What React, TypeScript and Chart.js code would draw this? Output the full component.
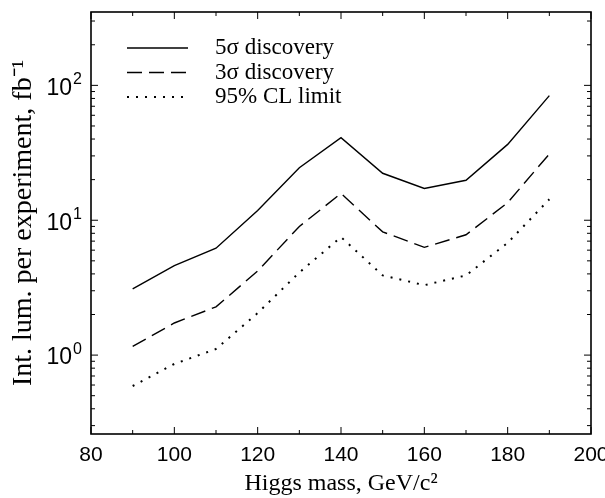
import { useEffect, useRef } from 'react';
import { Chart, registerables } from 'chart.js';

Chart.register(...registerables);

const masses = [90, 100, 110, 120, 130, 140, 150, 160, 170, 180, 190];
const discovery5 = [3.1, 4.6, 6.2, 11.8, 24.5, 41, 22.3, 17.2, 19.8, 36.5, 84];
const discovery3 = [1.16, 1.73, 2.28, 4.2, 9.0, 15.8, 8.2, 6.3, 7.8, 13.5, 31];
const limit95 = [0.59, 0.86, 1.11, 2.05, 4.1, 7.5, 3.9, 3.3, 3.9, 6.8, 14.3];
const seriesLabels = ['5σ discovery', '3σ discovery', '95% CL limit'];
const xMajorTicks = [80, 100, 120, 140, 160, 180, 200];
const xMinorTicks = [90, 110, 130, 150, 170, 190];
const yMajorTicks = [1, 10, 100];
const yLabelBase = '10';
const yLabelExponents = ['0', '1', '2'];
const yMinorTicks = [0.3, 0.4, 0.5, 0.6, 0.7, 0.8, 0.9, 2, 3, 4, 5, 6, 7, 8, 9, 20, 30, 40, 50, 60, 70, 80, 90, 200, 300];
const xTitle = 'Higgs mass, GeV/c²';
const yTitle = 'Int. lum. per experiment, fb⁻¹';

const dashStyles: number[][] = [[], [15, 7], [2, 7]];
const lineWidths = [1.4, 1.4, 2];

const framePlugin = {
  id: 'framePlugin',
  afterDatasetsDraw(chart: any) {
    const { ctx, chartArea } = chart;
    const { left, right, top, bottom } = chartArea;
    const xs = chart.scales.x;
    const ys = chart.scales.y;
    ctx.save();
    ctx.strokeStyle = '#000';
    ctx.lineWidth = 1;
    ctx.setLineDash([]);
    const seg = (x1: number, y1: number, x2: number, y2: number) => {
      ctx.beginPath();
      ctx.moveTo(x1, y1);
      ctx.lineTo(x2, y2);
      ctx.stroke();
    };
    xMajorTicks.forEach((v) => {
      const p = xs.getPixelForValue(v);
      seg(p, bottom, p, bottom - 7);
      seg(p, top, p, top + 7);
    });
    xMinorTicks.forEach((v) => {
      const p = xs.getPixelForValue(v);
      seg(p, bottom, p, bottom - 4);
      seg(p, top, p, top + 4);
    });
    yMajorTicks.forEach((v) => {
      const p = ys.getPixelForValue(v);
      seg(left, p, left + 7, p);
      seg(right, p, right - 7, p);
    });
    yMinorTicks.forEach((v) => {
      const p = ys.getPixelForValue(v);
      seg(left, p, left + 4, p);
      seg(right, p, right - 4, p);
    });
    ctx.lineWidth = 1.6;
    ctx.strokeRect(left, top, right - left, bottom - top);

    // y tick labels with superscript exponents
    ctx.fillStyle = '#000';
    yMajorTicks.forEach((v, i) => {
      const p = ys.getPixelForValue(v);
      ctx.font = '16px "Liberation Sans"';
      const expW = ctx.measureText(yLabelExponents[i]).width;
      const expX = left - 9 - expW;
      ctx.textAlign = 'left';
      ctx.textBaseline = 'alphabetic';
      ctx.fillText(yLabelExponents[i], expX, p - 1);
      ctx.font = '23px "Liberation Sans"';
      ctx.textAlign = 'right';
      ctx.textBaseline = 'middle';
      ctx.fillText(yLabelBase, expX - 1, p + 3);
    });

    // legend
    ctx.font = '23px "Liberation Serif"';
    ctx.textAlign = 'left';
    ctx.textBaseline = 'middle';
    chart.data.datasets.forEach((ds: any, i: number) => {
      const y = top + 36 + i * 24.5;
      ctx.lineWidth = lineWidths[i];
      ctx.setLineDash(dashStyles[i]);
      seg(left + 36, y, left + 97, y);
      ctx.setLineDash([]);
      ctx.fillText(ds.label, left + 124, y);
    });
    ctx.restore();
  },
};

export default function App() {
  const ref = useRef<HTMLCanvasElement | null>(null);
  useEffect(() => {
    document.body.style.margin = '0';
    const canvas = ref.current;
    if (!canvas) return;
    const series = [discovery5, discovery3, limit95];
    const chart = new Chart(canvas, {
      type: 'line',
      data: {
        datasets: series.map((vals, i) => ({
          label: seriesLabels[i],
          data: masses.map((m, j) => ({ x: m, y: vals[j] })),
          borderColor: '#000',
          borderWidth: lineWidths[i],
          borderDash: dashStyles[i],
          pointRadius: 0,
          tension: 0,
          fill: false,
        })),
      },
      options: {
        responsive: false,
        animation: false,
        layout: { padding: { left: 0, right: 14, top: 12, bottom: 0 } },
        plugins: { legend: { display: false }, tooltip: { enabled: false } },
        scales: {
          x: {
            type: 'linear',
            min: 80,
            max: 200,
            grid: { display: false, drawTicks: false },
            border: { display: false },
            afterBuildTicks: (s: any) => {
              s.ticks = xMajorTicks.map((v) => ({ value: v }));
            },
            ticks: {
              color: '#000',
              font: { family: 'Liberation Sans', size: 21 },
              padding: 9,
              maxRotation: 0,
              autoSkip: false,
            },
            title: {
              display: true,
              text: xTitle,
              color: '#000',
              font: { family: 'Liberation Serif', size: 24 },
              padding: { top: 0, bottom: 0 },
            },
            afterFit: (s: any) => {
              s.height = 64;
              s.paddingLeft = 0;
              s.paddingRight = 0;
            },
          },
          y: {
            type: 'logarithmic',
            min: 0.26,
            max: 350,
            grid: { display: false, drawTicks: false },
            border: { display: false },
            afterBuildTicks: (s: any) => {
              s.ticks = yMajorTicks.map((v) => ({ value: v }));
            },
            ticks: { display: false },
            title: {
              display: true,
              text: yTitle,
              color: '#000',
              font: { family: 'Liberation Serif', size: 28 },
              padding: { top: 7, bottom: 0 },
            },
            afterFit: (s: any) => {
              s.width = 91;
              s.paddingTop = 0;
              s.paddingBottom = 0;
            },
          },
        },
      },
      plugins: [framePlugin],
    });
    return () => chart.destroy();
  }, []);
  return (
    <div style={{ width: 605, height: 498 }}>
      <canvas ref={ref} width={605} height={498} />
    </div>
  );
}
